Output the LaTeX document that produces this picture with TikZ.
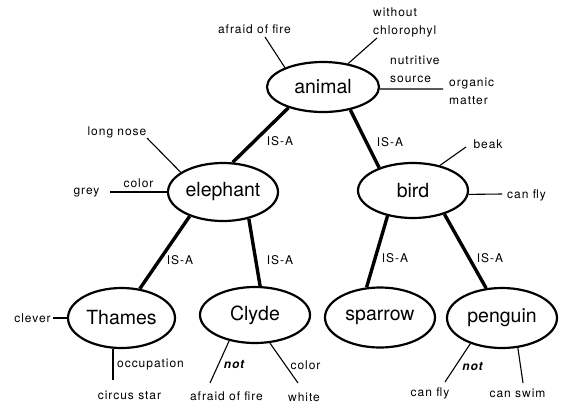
\documentclass[tikz,border=0pt]{standalone}
\usepackage{fontspec}
\setmainfont{TeX Gyre Heros}
\newfontfamily\labfont[LetterSpace=8]{TeX Gyre Heros}
\usetikzlibrary{shapes.geometric}
\begin{document}
\begin{tikzpicture}[x=1pt,y=-1pt,
  concept/.style={ellipse, draw, line width=2.2pt, inner sep=0pt, font=\fontsize{19.5}{22}\selectfont},
  isa/.style={line width=3.4pt},
  attr/.style={line width=1.1pt},
  lab/.style={font=\labfont\fontsize{12}{14}\selectfont, inner sep=0pt},
  neg/.style={font=\labfont\fontsize{12}{14}\selectfont\bfseries\itshape, inner sep=0pt},
  two/.style={lab, align=left, anchor=north west, font=\labfont\fontsize{12}{18}\selectfont}]
\useasboundingbox (0,0) rectangle (562,405);
% concept nodes
\node[concept, minimum width=112pt, minimum height=50pt] (animal) at (323,87) {animal};
\node[concept, minimum width=110pt, minimum height=58pt] (elephant) at (223,192) {elephant};
\node[concept, minimum width=110pt, minimum height=55pt] (bird) at (413,190.5) {bird};
\node[concept, minimum width=107pt, minimum height=60pt] (Thames) at (121.5,318) {Thames};
\node[concept, minimum width=110pt, minimum height=56pt] (Clyde) at (255,315) {Clyde};
\node[concept, minimum width=110pt, minimum height=60pt] (sparrow) at (380,317.5) {sparrow};
\node[concept, minimum width=110pt, minimum height=60pt] (penguin) at (502,318) {penguin};
% IS-A links
\draw[isa] (animal.211) -- (elephant.72);
\draw[isa] (animal.-40) -- (bird.146);
\draw[isa] (elephant.-144) -- (Thames.58);
\draw[isa] (elephant.-46) -- (Clyde.80);
\draw[isa] (bird.-135) -- (sparrow.114);
\draw[isa] (bird.-37) -- (penguin.118);
\node[lab] (l1) at (280,141) {IS-A};
\node[lab] (l2) at (390,142) {IS-A};
\node[lab] (l3) at (180,260) {IS-A};
\node[lab] (l4) at (280,260) {IS-A};
\node[lab] (l5) at (395,258) {IS-A};
\node[lab] (l6) at (490,258) {IS-A};
% animal attributes
\node[lab] (afire) at (254.5,29) {afraid of fire};
\coordinate (c1) at (265,37);
\draw[attr] (animal.153) -- (c1);
\node[two] (chl) at (373,8) {without\\chlorophyl};
\coordinate (c2) at (377,38);
\draw[attr] (animal.43) -- (c2);
\node[two] (nut) at (390,56) {nutritive\\source};
\coordinate (c3) at (443,89);
\draw[attr] (animal.-2) -- (c3);
\node[two] (org) at (449,78) {organic\\matter};
% elephant attributes
\node[lab] (nose) at (117,132) {long nose};
\coordinate (c4) at (147,138);
\draw[attr] (elephant.155) -- (c4);
\node[lab] (grey) at (86.5,193) {grey};
\coordinate (c5) at (110,192);
\draw[attr] (elephant.180) -- (c5);
\node[lab] (ecol) at (138.5,183) {color};
% bird attributes
\node[lab] (beak) at (488,144) {beak};
\coordinate (c6) at (466,147);
\draw[attr] (bird.43) -- (c6);
\node[lab] (bfly) at (526.5,195) {can fly};
\coordinate (c7) at (502,194);
\draw[attr] (bird.-4) -- (c7);
% Thames attributes
\node[lab] (clever) at (32.5,318) {clever};
\coordinate (c8) at (53,318);
\draw[attr] (Thames.180) -- (c8);
\coordinate (c9a) at (113,348.5);
\coordinate (c9) at (113,380);
\draw[attr] (c9a) -- (c9);
\node[lab, anchor=west] (occ) at (117,365) {occupation};
\node[lab] (circus) at (129.5,395) {circus star};
% Clyde attributes
\coordinate (c10) at (210,383);
\draw[attr] (Clyde.-135) -- (c10);
\node[neg] (not1) at (234,365) {not};
\node[lab] (cfire) at (226.5,396) {afraid of fire};
\coordinate (c11) at (298,383);
\draw[attr] (Clyde.-62) -- (c11);
\node[lab] (ccol) at (305.5,365) {color};
\node[lab] (white) at (304,397) {white};
% penguin attributes
\coordinate (c12) at (445,382);
\draw[attr] (penguin.-141) -- (c12);
\node[neg] (not2) at (472.5,367) {not};
\node[lab] (pfly) at (430,393) {can fly};
\coordinate (c13) at (523,383);
\draw[attr] (penguin.-62) -- (c13);
\node[lab] (swim) at (517.5,393) {can swim};
\end{tikzpicture}
\end{document}
